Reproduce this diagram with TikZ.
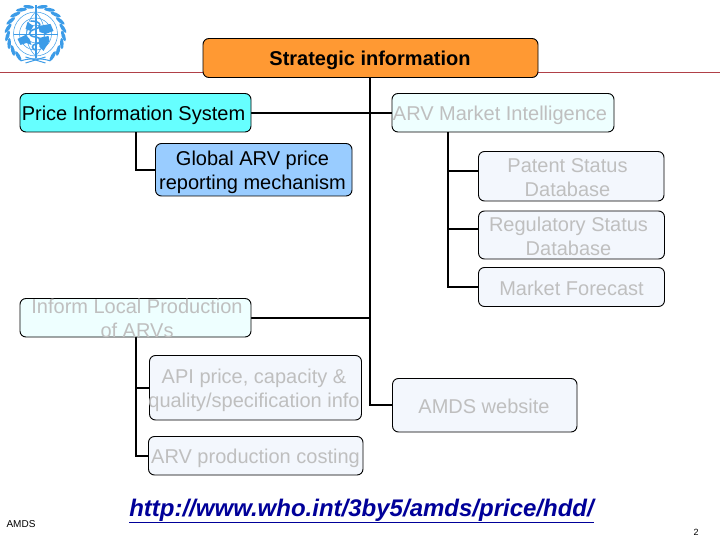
\documentclass[tikz,border=0pt]{standalone}
\usepackage{fontspec}
\setmainfont{Liberation Sans}
\definecolor{orangebox}{HTML}{FF9933}
\definecolor{cyanbox}{HTML}{66FFFF}
\definecolor{bluebox}{HTML}{99CCFF}
\definecolor{palecyan}{HTML}{EEFFFF}
\definecolor{paleblue}{HTML}{F3F7FD}
\definecolor{fadetext}{HTML}{BFBFBF}
\definecolor{linkblue}{HTML}{000099}
\definecolor{rulered}{HTML}{B04048}
\definecolor{whoblue}{HTML}{3C9CE8}
\tikzset{
  boxshape/.style={draw=black,line width=0.9pt,rounded corners=6pt,rectangle,inner sep=0pt,outer sep=0pt},
  boxtext/.style={inner sep=0pt,align=center,yshift=-2.5pt,font=\fontsize{20}{24}\selectfont},
  conn/.style={draw=black,line width=2pt},
  leaf/.style={fill=whoblue,draw=none},
  thinblue/.style={draw=whoblue,line width=0.5pt}
}
% name, x1, y1, x2, y2, fill, text centre x, text centre y, text
\newcommand{\BX}[9]{%
  \pgfmathsetmacro{\bw}{#4-#2}\pgfmathsetmacro{\bh}{#5-#3}%
  \pgfmathsetmacro{\bx}{(#2+#4)/2}\pgfmathsetmacro{\by}{(#3+#5)/2}%
  \node[boxshape,fill=#6,minimum width=\bw pt,minimum height=\bh pt] (#1) at (\bx,\by) {};
  \node[boxtext] (#1-t) at (#7,#8) {#9};
}
\begin{document}
\begin{tikzpicture}[x=1pt,y=-1pt]
\useasboundingbox (0,0) rectangle (720,540);
\fill[white] (0,0) rectangle (720,540);

% WHO logo
\begin{scope}[shift={(35.5,34)}]
  \foreach \a in {-52,-36,-20,-4,12,28,44,60,76}{
    \fill[leaf,rotate=\a,shift={(28,0)},rotate=22] (0,0) ellipse (1.8 and 5.6);
    \fill[leaf,rotate=180-\a,shift={(28,0)},rotate=-22] (0,0) ellipse (1.8 and 5.6);
  }
  \draw[thinblue] (0,0) circle (22);
  \draw[thinblue] (0,0) circle (16);
  \draw[thinblue] (0,0) circle (9);
  \draw[thinblue] (-22,0) -- (22,0);
  \draw[thinblue] (0,-22) .. controls (-12,-10) and (-12,10) .. (0,22);
  \draw[thinblue] (0,-22) .. controls (12,-10) and (12,10) .. (0,22);
  \fill[whoblue] (-18,5) -- (-10,1) -- (-6,5) -- (-4,11) -- (-9,9) -- (-15,11) -- cycle;
  \fill[whoblue] (3,4) -- (13,2) -- (14,7) -- (8,17) -- (4,13) -- cycle;
  \fill[whoblue] (-8,-12) -- (-2,-8) -- (-5,-3) -- (-10,-5) -- cycle;
  \fill[whoblue] (3,-8) -- (15,-10) -- (18,-3) -- (10,0) -- (4,-2) -- cycle;
  \draw[whoblue,line width=2pt] (0,-29) -- (0,24);
  \draw[whoblue,line width=1.6pt] (-5,-13) .. controls (6,-13) and (7,-7) .. (0,-5)
    .. controls (-8,-3) and (-8,2) .. (0,3)
    .. controls (7,4) and (7,9) .. (0,10)
    .. controls (-4,11) and (-4,15) .. (0,16);
  \draw[whoblue,line width=1pt] (-15,27) .. controls (-7,24) and (7,24) .. (15,27);
  \draw[whoblue,line width=1pt] (-10,23) -- (10,29);
  \draw[whoblue,line width=1pt] (10,23) -- (-10,29);
\end{scope}

% red rule
\draw[rulered,line width=0.9pt] (0,72) -- (720,72);

% connector junctions
\coordinate (spinetop) at (370,77);
\coordinate (spineinf) at (370,318);
\coordinate (mitap) at (448,132);
\coordinate (mif) at (392,113);
\coordinate (pise) at (251,113);
\coordinate (infe) at (251,318);
\coordinate (amdw) at (392,405);

% connectors (under the boxes)
\draw[conn] (pise) -- (mif);
\draw[conn] (infe) -- (spineinf);
\draw[conn] (spinetop) |- (amdw);
\draw[conn] (136,132) |- (155,170);
\draw[conn] (136,337) |- (149,388);
\draw[conn] (136,337) |- (148,456);
\draw[conn] (mitap) |- (478,171);
\draw[conn] (mitap) |- (478,229);
\draw[conn] (mitap) |- (478,287);

% boxes
\BX{top}{203}{38.5}{538}{77.5}{orangebox}{370}{58}{\bfseries Strategic information}
\BX{pis}{20}{93.5}{251}{132}{cyanbox}{133.5}{113}{Price Information System}
\BX{gar}{155.5}{143.5}{352}{196}{bluebox}{252.5}{169.5}{Global ARV price\\reporting mechanism}
\BX{mi}{392}{93.5}{614}{132}{palecyan}{500}{113}{\color{fadetext}ARV Market Intelligence}
\BX{pat}{478.5}{151.5}{664}{201}{paleblue}{567.5}{175}{\color{fadetext}Patent Status\\\color{fadetext}Database}
\BX{reg}{478.5}{211}{664.5}{259}{paleblue}{568.5}{233.5}{\color{fadetext}Regulatory Status\\\color{fadetext}Database}
\BX{mkt}{478.5}{267.5}{664.5}{306.5}{paleblue}{571.5}{285.5}{\color{fadetext}Market Forecast}
\BX{inf}{20}{298.5}{251}{337}{palecyan}{137}{315.5}{\color{fadetext}Inform Local Production\\\color{fadetext}of ARVs}
\BX{api}{149.5}{355.5}{361.5}{420}{paleblue}{254}{387.5}{\color{fadetext}API price, capacity \&\\\color{fadetext}quality/specification info}
\BX{cost}{148.5}{436.5}{363}{475}{paleblue}{255.5}{456}{\color{fadetext}ARV production costing}
\BX{amd}{392.5}{378.5}{577}{432}{paleblue}{484}{404}{\color{fadetext}AMDS website}

% footer
\node[inner sep=0pt,font=\bfseries\itshape\fontsize{24}{28}\selectfont,text=linkblue] (url) at (361.5,511) {\underline{http://www.who.int/3by5/amds/price/hdd/}};
\node[inner sep=0pt,font=\fontsize{10}{12}\selectfont] (amds) at (21,524.5) {AMDS};
\node[inner sep=0pt,font=\fontsize{9}{11}\selectfont] (page) at (696,532) {2};
\end{tikzpicture}
\end{document}
